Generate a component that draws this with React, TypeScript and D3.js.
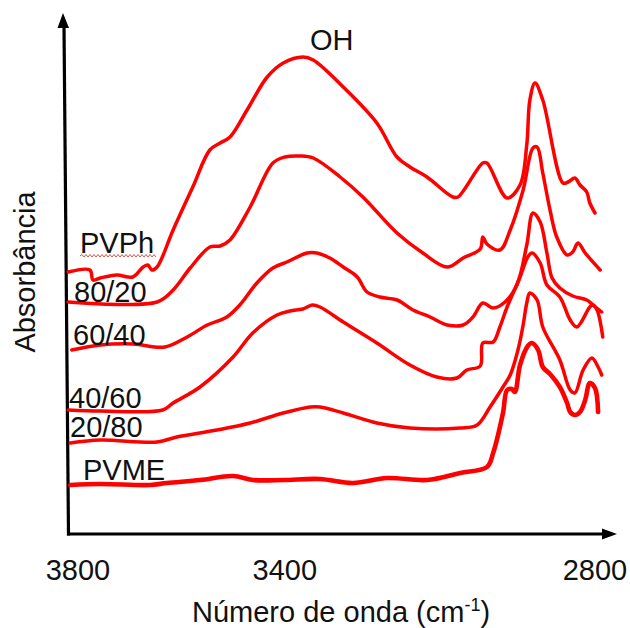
import React from "react";
import * as d3 from "d3";

// wavenumber (cm-1), absorbance (a.u.)
const PVPh: [number, number][] = [
  [3819, 0.262], [3777, 0.264], [3771, 0.254], [3757, 0.256], [3725, 0.259], [3694, 0.257],
  [3674, 0.267], [3665, 0.269], [3657, 0.264], [3647, 0.267], [3616, 0.304], [3578, 0.347],
  [3545, 0.384], [3525, 0.391], [3506, 0.397], [3473, 0.424], [3434, 0.457], [3403, 0.471],
  [3365, 0.477], [3345, 0.474], [3287, 0.447], [3222, 0.411], [3183, 0.377], [3158, 0.367],
  [3125, 0.357], [3075, 0.337], [3065, 0.337], [3017, 0.371], [3009, 0.371], [2970, 0.336],
  [2945, 0.349], [2932, 0.389], [2926, 0.434], [2916, 0.451], [2901, 0.434], [2862, 0.351],
  [2852, 0.352], [2839, 0.356], [2829, 0.349], [2816, 0.342], [2810, 0.331], [2800, 0.321],
];
const B80_20: [number, number][] = [
  [3819, 0.232], [3647, 0.232], [3616, 0.244], [3583, 0.266], [3545, 0.287], [3525, 0.288],
  [3506, 0.294], [3467, 0.327], [3423, 0.371], [3400, 0.377], [3371, 0.378], [3345, 0.376],
  [3293, 0.357], [3249, 0.337], [3183, 0.301], [3133, 0.281], [3086, 0.267], [3055, 0.276],
  [3022, 0.285], [3017, 0.297], [3009, 0.29], [2984, 0.284], [2964, 0.304], [2939, 0.344],
  [2920, 0.386], [2912, 0.387], [2901, 0.361], [2887, 0.324], [2874, 0.297], [2854, 0.279],
  [2843, 0.282], [2833, 0.291], [2819, 0.281], [2790, 0.264],
];
const B60_40: [number, number][] = [
  [3812, 0.184], [3757, 0.189], [3694, 0.19], [3632, 0.187], [3589, 0.197], [3550, 0.209],
  [3512, 0.217], [3487, 0.229], [3454, 0.251], [3423, 0.266], [3396, 0.272], [3357, 0.281],
  [3338, 0.281], [3313, 0.276], [3287, 0.267], [3260, 0.257], [3241, 0.242], [3216, 0.237],
  [3183, 0.234], [3152, 0.224], [3119, 0.217], [3086, 0.209], [3055, 0.209], [3036, 0.217],
  [3017, 0.231], [2997, 0.226], [2974, 0.232], [2951, 0.249], [2932, 0.289], [2920, 0.321],
  [2906, 0.312], [2893, 0.281], [2883, 0.256], [2868, 0.246], [2843, 0.238], [2816, 0.234],
  [2804, 0.229], [2787, 0.222],
];
const B40_60: [number, number][] = [
  [3819, 0.124], [3757, 0.123], [3636, 0.124], [3616, 0.131], [3564, 0.147], [3500, 0.177],
  [3462, 0.201], [3415, 0.219], [3390, 0.223], [3365, 0.225], [3347, 0.229], [3332, 0.227],
  [3287, 0.212], [3222, 0.191], [3158, 0.169], [3106, 0.157], [3067, 0.156], [3048, 0.164],
  [3022, 0.168], [3017, 0.191], [2997, 0.192], [2984, 0.207], [2970, 0.227], [2945, 0.257],
  [2930, 0.277], [2922, 0.281], [2906, 0.271], [2893, 0.249], [2868, 0.237], [2848, 0.214],
  [2835, 0.207], [2810, 0.227], [2804, 0.229], [2796, 0.224], [2785, 0.197],
];
const B20_80: [number, number][] = [
  [3815, 0.091], [3757, 0.094], [3647, 0.092], [3609, 0.097], [3531, 0.104], [3467, 0.111],
  [3403, 0.121], [3351, 0.127], [3332, 0.127], [3287, 0.121], [3222, 0.111], [3158, 0.106],
  [3061, 0.106], [3028, 0.109], [3003, 0.127], [2978, 0.147], [2964, 0.159], [2949, 0.184],
  [2939, 0.209], [2932, 0.231], [2926, 0.241], [2912, 0.234], [2901, 0.207], [2868, 0.174],
  [2848, 0.144], [2839, 0.141], [2823, 0.164], [2806, 0.176], [2794, 0.167], [2787, 0.159],
];
const PVME: [number, number][] = [
  [3815, 0.049], [3757, 0.05], [3661, 0.049], [3628, 0.051], [3564, 0.054], [3500, 0.058],
  [3462, 0.054], [3403, 0.054], [3332, 0.055], [3268, 0.051], [3202, 0.056], [3125, 0.054],
  [3061, 0.061], [3009, 0.067], [2997, 0.081], [2978, 0.121], [2970, 0.144], [2961, 0.145],
  [2955, 0.142], [2945, 0.169], [2930, 0.188], [2922, 0.191], [2910, 0.184], [2901, 0.167],
  [2887, 0.16], [2868, 0.147], [2854, 0.131], [2848, 0.122], [2839, 0.119], [2829, 0.122],
  [2819, 0.134], [2810, 0.151], [2800, 0.146], [2794, 0.122],
];

const seriesNames = ["PVPh", "80/20", "60/40", "40/60", "20/80", "PVME"];
const seriesData = [PVPh, B80_20, B60_40, B40_60, B20_80, PVME];
const xTicks = [3800, 3400, 2800];
const peakLabel = "OH";
const xTitle = "Número de onda (cm";
const yTitle = "Absorbância";

const W = 630;
const H = 628;
const FONT = "'Liberation Sans', Arial, sans-serif";

export default function App() {
  const x = d3.scaleLinear().domain([3800, 2800]).range([78, 595]);
  const y = d3.scaleLinear().domain([0, 0.5]).range([534, 34]);
  const line = d3
    .line<[number, number]>()
    .x((d) => x(d[0]))
    .y((d) => y(d[1]))
    .curve(d3.curveCatmullRom.alpha(0.5));

  const labelPos = [
    [80, 253],
    [74, 302],
    [73, 345],
    [69, 408],
    [70, 437],
    [83, 480],
  ];
  const widths = [3.5, 3.5, 3.5, 3.5, 3.5, 4.6];

  // spell-check squiggle under PVPh
  let sq = "M80,256";
  for (let i = 1; i <= 38; i++) sq += ` L${80 + i * 2},${i % 2 ? 254.5 : 257}`;

  const axisY0 = 534;
  return (
    <svg
      width={W}
      height={H}
      style={{ position: "absolute", left: 0, top: 0, display: "block", background: "#fff" }}
    >
      <rect width={W} height={H} fill="#fff" />
      {/* axes */}
      <line x1={68.5} y1={axisY0 + 1.5} x2={64} y2={26} stroke="#000" strokeWidth={3.2} />
      <path d="M63,13 L57.5,28 L69,28 Z" fill="#000" />
      <line x1={67} y1={axisY0} x2={604} y2={axisY0} stroke="#000" strokeWidth={3.2} />
      <path d="M617,534 L602,528.5 L602,539.5 Z" fill="#000" />

      {seriesData.map((s, i) => (
        <path
          key={seriesNames[i]}
          d={line(s) || ""}
          fill="none"
          stroke="#ff0000"
          strokeWidth={widths[i]}
          strokeLinejoin="round"
          strokeLinecap="round"
        />
      ))}

      <path d={sq} fill="none" stroke="#e05050" strokeWidth={1} />

      {seriesNames.map((n, i) => (
        <text
          key={n}
          x={labelPos[i][0]}
          y={labelPos[i][1]}
          fontFamily={FONT}
          fontSize={29}
          fill="#111"
        >
          {n}
        </text>
      ))}

      <text x={310} y={50} fontFamily={FONT} fontSize={29} fill="#111">
        {peakLabel}
      </text>

      {xTicks.map((t) => (
        <text
          key={t}
          x={x(t)}
          y={580}
          textAnchor="middle"
          fontFamily={FONT}
          fontSize={29}
          fill="#111"
        >
          {t}
        </text>
      ))}

      <text x={192} y={622} fontFamily={FONT} fontSize={29} fill="#111">
        {xTitle}
        <tspan fontSize={18} dy={-11}>-1</tspan>
        <tspan dy={11}>)</tspan>
      </text>

      <text
        transform="translate(35,272) rotate(-90)"
        textAnchor="middle"
        fontFamily={FONT}
        fontSize={29}
        fill="#111"
      >
        {yTitle}
      </text>
    </svg>
  );
}
